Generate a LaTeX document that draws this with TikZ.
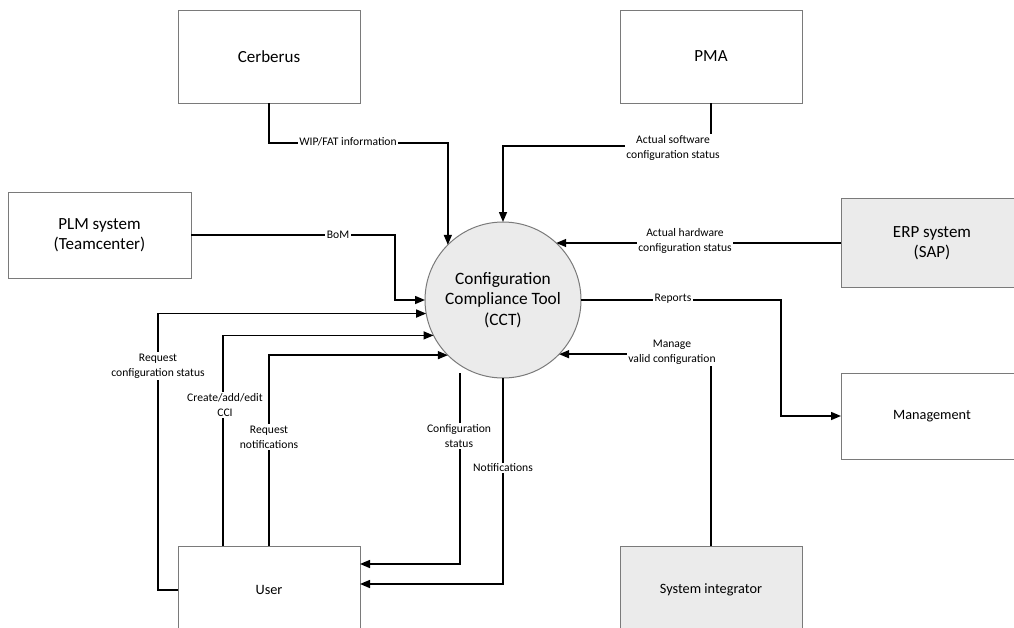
\documentclass[tikz,border=0pt]{standalone}
\usepackage{fontspec}
\setmainfont{Carlito}
\usetikzlibrary{arrows.meta,calc}
\definecolor{boxline}{HTML}{7A7A7A}
\definecolor{shade}{HTML}{EBEBEB}
\begin{document}
\begin{tikzpicture}[x=0.75pt,y=-0.75pt,
  box/.style={draw=boxline,line width=0.75pt,inner sep=0pt,outer sep=0pt,
    align=center,font=\fontsize{12.75pt}{15pt}\selectfont},
  smallbox/.style={box,font=\fontsize{10.7pt}{13pt}\selectfont},
  hub/.style={circle,draw=boxline,line width=0.75pt,fill=shade,minimum size=117pt,
    inner sep=0pt,outer sep=0pt,align=center,font=\fontsize{13pt}{15.4pt}\selectfont},
  flow/.style={draw=black,line width=1.1pt,-{Triangle[length=7.5pt,width=6pt]}},
  lbl/.style={fill=white,inner sep=1pt,align=center,font=\fontsize{8.7pt}{11.25pt}\selectfont}]

\useasboundingbox (0,0) rectangle (1014,628);
\clip (0,0) rectangle (1014,628);

% external entities and the central process
\node[box,minimum width=136.5pt,minimum height=69.75pt] (cer) at (269,56.5) {Cerberus};
\node[box,minimum width=136.5pt,minimum height=69.75pt] (pma) at (711,56.5) {PMA};
\node[box,minimum width=137.25pt,minimum height=64.5pt] (plm) at (99.5,235) {PLM system\\(Teamcenter)};
\node[box,fill=shade,minimum width=136.5pt,minimum height=66.75pt] (erp) at (932,243) {ERP system\\(SAP)};
\node[smallbox,minimum width=136.5pt,minimum height=64.5pt] (mgmt) at (932,416) {Management};
\node[smallbox,minimum width=136.5pt,minimum height=66pt] (user) at (269,590) {User};
\node[smallbox,fill=shade,minimum width=136.5pt,minimum height=66pt] (si) at (711,590) {System integrator};
\node[hub] (cct) at (503,300) {Configuration\\Compliance Tool\\(CCT)};

% data flows
\draw[flow] (cer.south) -- ++(0,40) -| (cct.135);
\draw[flow] (pma.south) -- ++(0,43) -| (cct.north);
\draw[flow] (plm.east) -- ++(204,0) |- (cct.west);
\draw[flow] (erp.west) -- (cct.47 |- erp.west);
\draw[flow] (cct.east) -| ($(mgmt.west)+(-60,0)$) -- (mgmt.west);
\draw[flow] (si.north) |- (cct.-44);
\draw[flow] (user.west) -- ++(-20,0) |- (cct.190);
\draw[flow] ($(user.north)+(-46,0)$) |- (cct.207);
\draw[flow] (user.north) |- (cct.225);
\coordinate (cs) at (460,373);
\draw[flow] (cs) |- ($(user.east)+(0,-26)$);
\draw[flow] (cct.south) |- ($(user.east)+(0,-6)$);

% flow labels
\node[lbl] (wipl) at (348,142) {WIP/FAT information};
\node[lbl] (pmal) at (673,148) {Actual software\\configuration status};
\node[lbl] (boml) at (338,235) {BoM};
\node[lbl] (erpl) at (685,241) {Actual hardware\\configuration status};
\node[lbl] (repl) at (673,299) {Reports};
\node[lbl] (manl) at (672,352) {Manage\\valid configuration};
\node[lbl] (rcsl) at (158,366) {Request\\configuration status};
\node[lbl] (cael) at (225,405) {Create/add/edit\\CCI};
\node[lbl] (rnl) at (269,437) {Request\\notifications};
\node[lbl] (csl) at (459,436) {Configuration\\status};
\node[lbl] (notl) at (503,468) {Notifications};
\end{tikzpicture}
\end{document}
